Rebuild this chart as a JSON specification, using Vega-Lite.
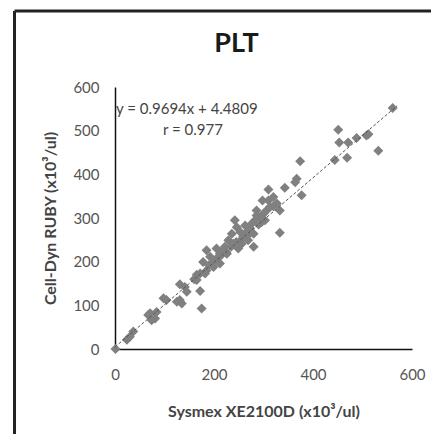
{
  "$schema": "https://vega.github.io/schema/vega-lite/v6.json",
  "width": 297,
  "height": 262,
  "autosize": {"type": "none"},
  "padding": {"left": 115, "top": 87, "right": 19, "bottom": 85},
  "background": "white",
  "config": {"view": {"stroke": null}, "font": "Lato"},
  "title": {"text": "PLT", "fontSize": 27, "fontWeight": "bold", "font": "Lato", "color": "#1a1a1a", "frame": "group", "anchor": "middle", "baseline": "alphabetic", "offset": 0, "dy": 69, "dx": -27},
  "datasets": {
    "points": [
      {"x": 1, "y": 0}, {"x": 24, "y": 21}, {"x": 30, "y": 28}, {"x": 37, "y": 40}, {"x": 67, "y": 78},
      {"x": 71, "y": 82}, {"x": 74, "y": 66}, {"x": 81, "y": 70}, {"x": 84, "y": 85}, {"x": 98, "y": 116},
      {"x": 104, "y": 112}, {"x": 125, "y": 108}, {"x": 131, "y": 112}, {"x": 135, "y": 104}, {"x": 131, "y": 148},
      {"x": 141, "y": 142}, {"x": 145, "y": 131}, {"x": 172, "y": 133}, {"x": 175, "y": 93}, {"x": 165, "y": 158},
      {"x": 165, "y": 170}, {"x": 172, "y": 173}, {"x": 182, "y": 173}, {"x": 178, "y": 199}, {"x": 185, "y": 226},
      {"x": 185, "y": 180}, {"x": 192, "y": 211}, {"x": 199, "y": 188}, {"x": 202, "y": 203}, {"x": 205, "y": 230},
      {"x": 212, "y": 218}, {"x": 212, "y": 196}, {"x": 222, "y": 234}, {"x": 226, "y": 218}, {"x": 229, "y": 249},
      {"x": 236, "y": 264}, {"x": 239, "y": 241}, {"x": 242, "y": 295}, {"x": 246, "y": 279}, {"x": 249, "y": 230},
      {"x": 253, "y": 268}, {"x": 256, "y": 241}, {"x": 259, "y": 257}, {"x": 263, "y": 283}, {"x": 266, "y": 268},
      {"x": 269, "y": 249}, {"x": 273, "y": 276}, {"x": 276, "y": 287}, {"x": 280, "y": 234}, {"x": 280, "y": 264},
      {"x": 283, "y": 295}, {"x": 286, "y": 306}, {"x": 286, "y": 317}, {"x": 293, "y": 298}, {"x": 298, "y": 340},
      {"x": 300, "y": 310}, {"x": 303, "y": 295}, {"x": 306, "y": 317}, {"x": 310, "y": 340}, {"x": 310, "y": 365},
      {"x": 313, "y": 325}, {"x": 320, "y": 327}, {"x": 320, "y": 348}, {"x": 327, "y": 333}, {"x": 333, "y": 317},
      {"x": 333, "y": 266}, {"x": 343, "y": 369}, {"x": 364, "y": 382}, {"x": 367, "y": 390}, {"x": 374, "y": 430},
      {"x": 377, "y": 352}, {"x": 444, "y": 433}, {"x": 469, "y": 438}, {"x": 451, "y": 502}, {"x": 453, "y": 473},
      {"x": 471, "y": 473}, {"x": 488, "y": 483}, {"x": 508, "y": 489}, {"x": 512, "y": 492}, {"x": 532, "y": 454},
      {"x": 561, "y": 552}, {"x": 195, "y": 195}, {"x": 215, "y": 215}, {"x": 235, "y": 235}, {"x": 245, "y": 245},
      {"x": 255, "y": 250}, {"x": 270, "y": 262}, {"x": 290, "y": 285}, {"x": 225, "y": 222}, {"x": 208, "y": 210},
      {"x": 218, "y": 226}, {"x": 262, "y": 258}, {"x": 296, "y": 290}, {"x": 190, "y": 192}, {"x": 160, "y": 160}
    ],
    "trend": [{"x": 0, "y": 4.48}, {"x": 570, "y": 557.0}],
    "frame": [
      {"x": -203, "x2": -203, "y": -200, "y2": 774},
      {"x": -203, "x2": 800, "y": 774, "y2": 774}
    ],
    "labels": [
      {"x": 0, "y": 550, "text": "y = 0.9694x + 4.4809"},
      {"x": 95, "y": 501, "text": "r = 0.977"}
    ]
  },
  "layer": [
    {
      "data": {"name": "points"},
      "mark": {"type": "point", "shape": "diamond", "filled": true, "color": "#808080", "opacity": 1, "size": 100, "clip": false},
      "encoding": {
        "x": {
          "field": "x", "type": "quantitative",
          "scale": {"domain": [0, 600], "nice": false},
          "axis": {
            "values": [0, 200, 400, 600], "ticks": false, "grid": false, "labelFlush": false,
            "domainColor": "#111111", "domainWidth": 1.5,
            "labelFont": "Lato", "labelFontSize": 15, "labelColor": "#555555", "labelPadding": 18,
            "title": "Sysmex XE2100D (x10³/ul)", "titleFont": "Lato", "titleFontSize": 16, "titleFontWeight": "bold",
            "titleColor": "#444444", "titlePadding": 21
          }
        },
        "y": {
          "field": "y", "type": "quantitative",
          "scale": {"domain": [0, 600], "nice": false},
          "axis": {
            "values": [0, 100, 200, 300, 400, 500, 600], "ticks": false, "grid": false, "labelFlush": false,
            "domainColor": "#111111", "domainWidth": 1.5,
            "labelFont": "Lato", "labelFontSize": 15, "labelColor": "#555555", "labelPadding": 16,
            "title": "Cell-Dyn RUBY (x10³/ul)", "titleFont": "Lato", "titleFontSize": 16, "titleFontWeight": "bold",
            "titleColor": "#444444", "titlePadding": 14
          }
        }
      }
    },
    {
      "data": {"name": "frame"},
      "mark": {"type": "rule", "color": "#222222", "strokeWidth": 3, "clip": false},
      "encoding": {
        "x": {"field": "x", "type": "quantitative", "scale": {"domain": [0, 600], "nice": false}},
        "x2": {"field": "x2"},
        "y": {"field": "y", "type": "quantitative", "scale": {"domain": [0, 600], "nice": false}},
        "y2": {"field": "y2"}
      }
    },
    {
      "data": {"name": "trend"},
      "mark": {"type": "line", "color": "#555555", "strokeWidth": 1, "strokeDash": [3, 2], "clip": false},
      "encoding": {
        "x": {"field": "x", "type": "quantitative", "scale": {"domain": [0, 600], "nice": false}},
        "y": {"field": "y", "type": "quantitative", "scale": {"domain": [0, 600], "nice": false}}
      }
    },
    {
      "data": {"name": "labels"},
      "mark": {"type": "text", "align": "left", "baseline": "middle", "font": "Lato", "fontSize": 15, "color": "#444444", "dx": 1, "clip": false},
      "encoding": {
        "x": {"field": "x", "type": "quantitative", "scale": {"domain": [0, 600], "nice": false}},
        "y": {"field": "y", "type": "quantitative", "scale": {"domain": [0, 600], "nice": false}},
        "text": {"field": "text"}
      }
    }
  ]
}
